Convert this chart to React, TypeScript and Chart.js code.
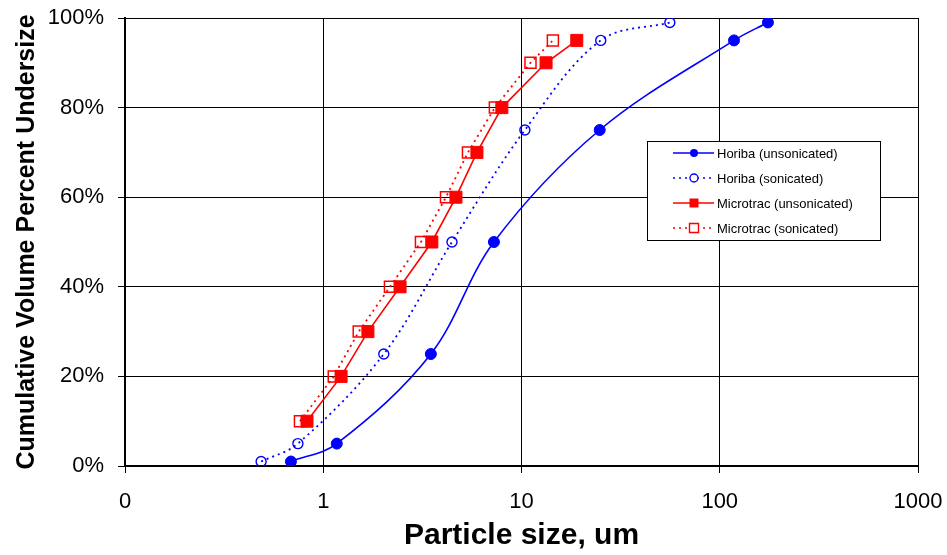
import React, { useEffect, useRef } from 'react';
import { Chart, registerables } from 'chart.js';

Chart.register(...registerables);

const FONT = 'Arial, "Liberation Sans", sans-serif';

const seriesNames = [
  'Horiba (unsonicated)',
  'Horiba (sonicated)',
  'Microtrac (unsonicated)',
  'Microtrac (sonicated)',
];

const horibaPercent = [1, 5, 25, 50, 75, 95, 99];
const horibaUnsonicatedSize = [0.687, 1.17, 3.49, 7.26, 24.8, 118, 175];
const horibaSonicatedSize = [0.486, 0.745, 2.02, 4.46, 10.4, 25.1, 56.0];

const microtracPercent = [10, 20, 30, 40, 50, 60, 70, 80, 90, 95];
const microtracUnsonicatedSize = [0.828, 1.23, 1.68, 2.44, 3.53, 4.67, 5.96, 7.96, 13.3, 19.0];
const microtracSonicatedSize = [0.763, 1.13, 1.51, 2.17, 3.11, 4.16, 5.37, 7.34, 11.1, 14.4];

const xTickValues = [0.1, 1, 10, 100, 1000];
const xTickLabels = ['0', '1', '10', '100', '1000'];

const BLUE = '#0000ff';
const RED = '#ff0000';

const toPoints = (xs: number[], ys: number[]) => xs.map((x, i) => ({ x, y: ys[i] }));

const legendStyles = [
  { color: BLUE, dash: [] as number[], style: 'circle', filled: true },
  { color: BLUE, dash: [2, 4], style: 'circle', filled: false },
  { color: RED, dash: [] as number[], style: 'rect', filled: true },
  { color: RED, dash: [2, 4], style: 'rect', filled: false },
];

const legendPlugin = {
  id: 'customLegend',
  afterDraw(chart: any) {
    const ctx = chart.ctx as CanvasRenderingContext2D;
    const bx = 647, by = 141, bw = 233, bh = 99;
    ctx.save();
    ctx.fillStyle = '#ffffff';
    ctx.fillRect(bx, by, bw, bh);
    ctx.strokeStyle = '#000';
    ctx.lineWidth = 1;
    ctx.strokeRect(bx + 0.5, by + 0.5, bw, bh);
    const rowY = [153, 178, 203, 228];
    seriesNames.forEach((name, i) => {
      const s = legendStyles[i];
      const y = rowY[i];
      ctx.save();
      ctx.strokeStyle = s.color;
      ctx.lineWidth = 1.6;
      ctx.setLineDash(s.dash);
      ctx.beginPath();
      ctx.moveTo(673, y);
      ctx.lineTo(714, y);
      ctx.stroke();
      ctx.setLineDash([]);
      ctx.beginPath();
      if (s.style === 'circle') {
        ctx.arc(694, y, 4, 0, Math.PI * 2);
      } else {
        ctx.rect(694 - 4.5, y - 4.5, 9, 9);
      }
      if (s.filled) {
        ctx.fillStyle = s.color;
        ctx.fill();
      } else {
        ctx.fillStyle = '#fff';
        ctx.fill();
        ctx.lineWidth = 1.4;
        ctx.stroke();
      }
      ctx.restore();
      ctx.fillStyle = '#000';
      ctx.font = `13px ${FONT}`;
      ctx.textBaseline = 'middle';
      ctx.textAlign = 'left';
      ctx.fillText(name, 717, y + 1);
    });
    ctx.restore();
  },
};

export default function App() {
  const canvasRef = useRef<HTMLCanvasElement | null>(null);

  useEffect(() => {
    const canvas = canvasRef.current;
    if (!canvas) return;
    const chart = new Chart(canvas, {
      type: 'line',
      data: {
        datasets: [
          {
            label: seriesNames[0],
            data: toPoints(horibaUnsonicatedSize, horibaPercent),
            borderColor: BLUE,
            backgroundColor: BLUE,
            borderWidth: 1.6,
            tension: 0.35,
            pointStyle: 'circle',
            pointRadius: 5.5,
            pointBorderWidth: 1,
            pointBackgroundColor: BLUE,
            pointBorderColor: BLUE,
          },
          {
            label: seriesNames[1],
            data: toPoints(horibaSonicatedSize, horibaPercent),
            borderColor: BLUE,
            backgroundColor: 'rgba(0,0,0,0)',
            borderWidth: 1.8,
            borderDash: [2, 4],
            tension: 0.35,
            pointStyle: 'circle',
            pointRadius: 5,
            pointBorderWidth: 1.4,
            pointBackgroundColor: 'rgba(0,0,0,0)',
            pointBorderColor: BLUE,
          },
          {
            label: seriesNames[2],
            data: toPoints(microtracUnsonicatedSize, microtracPercent),
            borderColor: RED,
            backgroundColor: RED,
            borderWidth: 1.6,
            tension: 0,
            pointStyle: 'rect',
            pointRadius: 8.5,
            pointBorderWidth: 1,
            pointBackgroundColor: RED,
            pointBorderColor: RED,
          },
          {
            label: seriesNames[3],
            data: toPoints(microtracSonicatedSize, microtracPercent),
            borderColor: RED,
            backgroundColor: 'rgba(0,0,0,0)',
            borderWidth: 1.8,
            borderDash: [2, 4],
            tension: 0,
            pointStyle: 'rect',
            pointRadius: 7.8,
            pointBorderWidth: 1.5,
            pointBackgroundColor: 'rgba(0,0,0,0)',
            pointBorderColor: RED,
          },
        ],
      },
      options: {
        responsive: false,
        animation: false,
        devicePixelRatio: 1,
        layout: { padding: { top: 18, right: 29, left: 0, bottom: 0 } },
        plugins: {
          legend: { display: false },
          tooltip: { enabled: false },
        },
        scales: {
          x: {
            type: 'logarithmic',
            min: 0.1,
            max: 1000,
            afterBuildTicks: (scale: any) => {
              scale.ticks = xTickValues.map((v) => ({ value: v }));
            },
            afterFit: (scale: any) => {
              scale.height = 89;
              scale.paddingLeft = 0;
              scale.paddingRight = 0;
            },
            ticks: {
              color: '#000',
              font: { family: FONT, size: 22 },
              padding: 16,
              maxRotation: 0,
              autoSkip: false,
              callback: (value: any) => {
                const idx = xTickValues.indexOf(Number(value));
                return idx >= 0 ? xTickLabels[idx] : '';
              },
            },
            grid: {
              color: '#000',
              lineWidth: 1,
              tickLength: 7,
              drawTicks: true,
            },
            border: { color: '#000', width: 2 },
            title: {
              display: true,
              text: 'Particle size, um',
              color: '#000',
              font: { family: FONT, size: 30, weight: 'bold' },
              padding: { top: 0, bottom: 1 },
            },
          },
          y: {
            type: 'linear',
            min: 0,
            max: 100,
            afterFit: (scale: any) => {
              scale.width = 125;
              scale.paddingTop = 0;
              scale.paddingBottom = 0;
            },
            ticks: {
              stepSize: 20,
              color: '#000',
              font: { family: FONT, size: 22 },
              padding: 14,
              callback: (value: any) => `${value}%`,
            },
            grid: {
              color: '#000',
              lineWidth: 1,
              tickLength: 7,
            },
            border: { color: '#000', width: 2 },
            title: {
              display: true,
              text: 'Cumulative Volume Percent Undersize',
              color: '#000',
              font: { family: FONT, size: 25, weight: 'bold' },
              padding: { top: 12, bottom: 0 },
            },
          },
        },
      },
      plugins: [legendPlugin],
    });
    return () => chart.destroy();
  }, []);

  return (
    <div style={{ position: 'fixed', left: 0, top: 0, width: 947, height: 555, background: '#fff' }}>
      <canvas ref={canvasRef} width={947} height={555} style={{ width: 947, height: 555, display: 'block' }} />
    </div>
  );
}
